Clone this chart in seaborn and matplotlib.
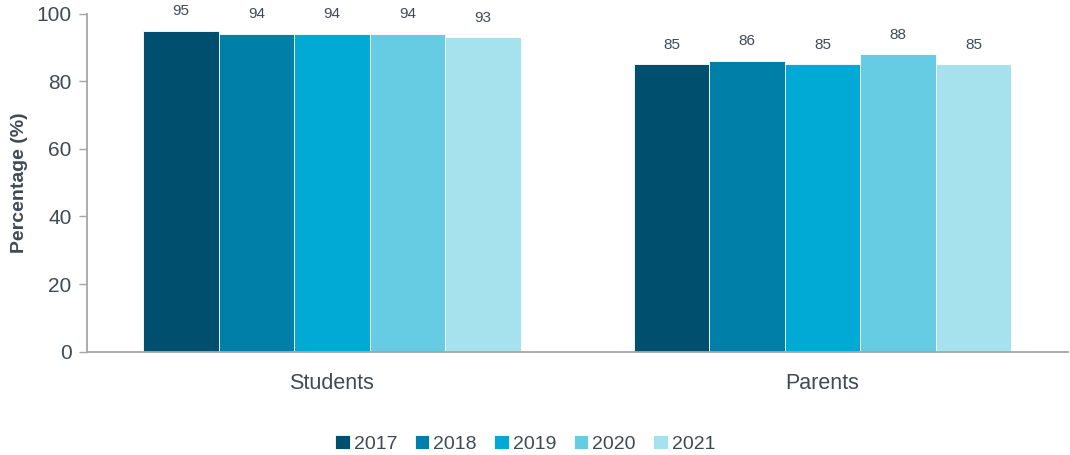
import matplotlib
matplotlib.use("Agg")
import matplotlib.pyplot as plt
import seaborn as sns
import pandas as pd

groups = ["Students", "Parents"]
years = ["2017", "2018", "2019", "2020", "2021"]
students = [95, 94, 94, 94, 93]
parents = [85, 86, 85, 88, 85]
palette = ["#004F6E", "#007FA8", "#00AAD4", "#66CCE3", "#A6E1EE"]

rows = []
for yr, s, p in zip(years, students, parents):
    rows.append({"group": "Students", "year": yr, "value": s})
    rows.append({"group": "Parents", "year": yr, "value": p})
df = pd.DataFrame(rows)

sns.set_theme(style="white")
plt.rcParams["font.family"] = ["Liberation Sans", "DejaVu Sans"]
text_color = "#404A54"
spine_color = "#A6A6A6"

fig, ax = plt.subplots(figsize=(10.7, 4.55), dpi=100)
fig.subplots_adjust(left=0.081, right=0.998, top=0.97, bottom=0.227)

sns.barplot(data=df, x="group", y="value", hue="year", order=groups,
            hue_order=years, palette=palette, width=0.77, saturation=1,
            edgecolor="white", linewidth=0.6, ax=ax, legend=True)

for container in ax.containers:
    ax.bar_label(container, fmt="%d", padding=9, fontsize=11, color=text_color)

ax.set_ylim(0, 100)
ax.set_xlim(-0.5, 1.5)
ax.set_yticks([0, 20, 40, 60, 80, 100])
ax.set_xlabel("")
ax.set_ylabel("Percentage (%)", fontsize=14, fontweight="bold",
              color=text_color, labelpad=6)
ax.tick_params(axis="y", left=True, length=6, width=1, color=spine_color,
               labelsize=15, labelcolor=text_color, pad=5)
ax.tick_params(axis="x", bottom=False, labelsize=15.5, labelcolor=text_color, pad=9)
for side in ["top", "right"]:
    ax.spines[side].set_visible(False)
for side in ["left", "bottom"]:
    ax.spines[side].set_color(spine_color)
    ax.spines[side].set_linewidth(1.3)

handles, labels = ax.get_legend_handles_labels()
ax.legend(handles, labels, loc="upper center", bbox_to_anchor=(0.447, -0.195),
          ncol=5, frameon=False, fontsize=14, handlelength=0.75, handleheight=0.75,
          handletextpad=0.2, columnspacing=0.9, labelcolor=text_color)

fig.savefig("out.png", dpi=100)
